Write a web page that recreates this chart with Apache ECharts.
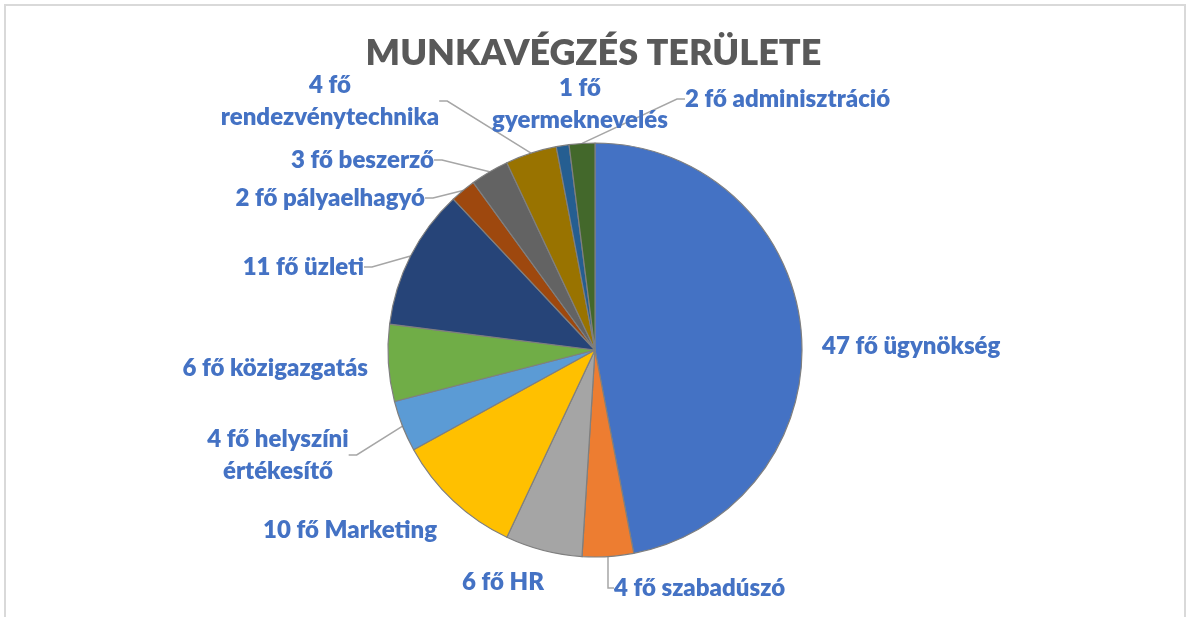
<!DOCTYPE html>
<html>
<head>
<meta charset="utf-8">
<script src="https://cdn.jsdelivr.net/npm/echarts@6/dist/echarts.min.js"></script>
<style>
  html, body { margin: 0; padding: 0; background: #fff; }
  #chart { width: 1187px; height: 617px; }
</style>
</head>
<body>
<div id="chart"></div>
<script>
// adatok
const areas = ['ügynökség', 'szabadúszó', 'HR', 'Marketing', 'helyszíni\nértékesítő', 'közigazgatás',
  'üzleti', 'pályaelhagyó', 'beszerző', 'rendezvénytechnika', 'gyermeknevelés', 'adminisztráció'];
const people = [47, 4, 6, 10, 4, 6, 11, 2, 3, 4, 1, 2];
const colors = ['#4472C4', '#ED7D31', '#A5A5A5', '#FFC000', '#5B9BD5', '#70AD47',
  '#264478', '#9E480E', '#636363', '#997300', '#255E91', '#43682B'];

// címkék elhelyezése (x, y, igazítás, elválasztó, vezetővonal)
const labelSpots = [
  [822, 346, 'left', ' ', false],
  [614, 588, 'left', ' ', true],
  [503, 582, 'center', ' ', false],
  [437, 530, 'right', ' ', false],
  [278, 455, 'center', ' ', true],
  [368, 368, 'right', ' ', false],
  [364, 267, 'right', ' ', true],
  [425, 198, 'right', ' ', true],
  [434, 160, 'right', ' ', true],
  [330, 101, 'center', '\n', true],
  [580, 104, 'center', '\n', false],
  [685, 99, 'left', ' ', true]
];

const chart = echarts.init(document.getElementById('chart'));

const data = areas.map((a, i) => ({
  name: a,
  value: people[i],
  itemStyle: { color: colors[i] },
  labelLine: { show: labelSpots[i][4] }
}));

chart.setOption({
  animation: false,
  title: {
    text: 'MUNKAVÉGZÉS TERÜLETE',
    left: 'center',
    top: 30,
    textStyle: { fontFamily: 'Lato', fontWeight: 800, fontSize: 36, color: '#595959' }
  },
  graphic: [{
    type: 'rect',
    shape: { x: 5, y: 5, width: 1180, height: 700 },
    style: { fill: 'none', stroke: '#d9d9d9', lineWidth: 2 },
    silent: true
  }],
  series: [{
    type: 'pie',
    center: [595, 350],
    radius: 207,
    startAngle: 90,
    clockwise: true,
    data: data,
    itemStyle: { borderColor: '#7f7f7f', borderWidth: 1.2 },
    label: {
      show: true,
      position: 'outside',
      fontFamily: 'Lato',
      fontWeight: 800,
      fontSize: 24,
      lineHeight: 32,
      color: '#4472C4',
      formatter: p => p.value + ' fő' + labelSpots[p.dataIndex][3] + p.name
    },
    labelLine: {
      length2: 8,
      lineStyle: { color: '#a6a6a6', width: 1.5 }
    },
    labelLayout: p => {
      const s = labelSpots[p.dataIndex];
      return { x: s[0], y: s[1], align: s[2], verticalAlign: 'middle' };
    }
  }]
});
window.addEventListener('resize', () => chart.resize());
</script>
</body>
</html>
